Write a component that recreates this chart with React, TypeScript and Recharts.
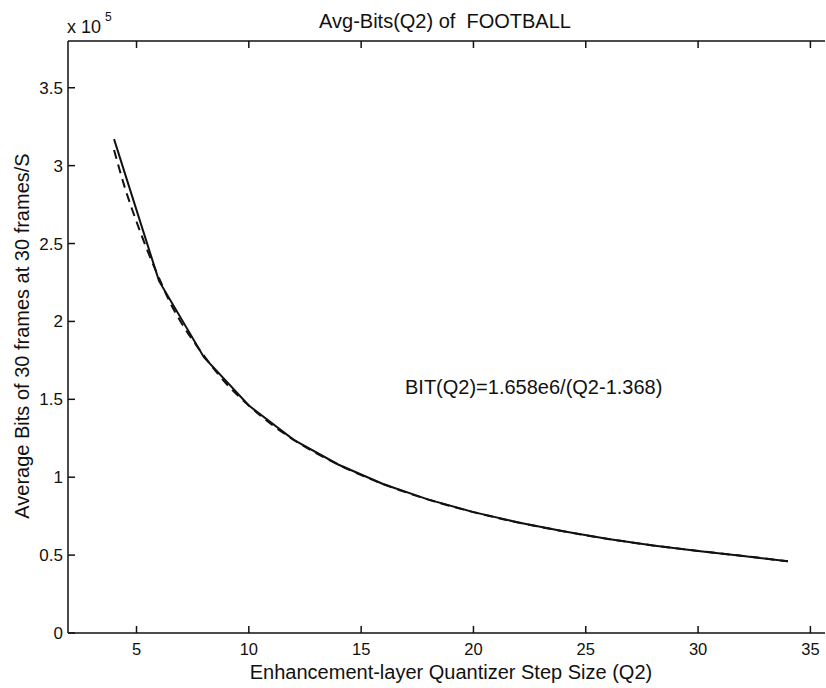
import React from 'react';
import { LineChart, Line, XAxis, YAxis, Customized } from 'recharts';

const q2Measured = [4, 6, 8, 10, 12, 14, 16, 18, 20, 22, 24, 26, 28, 30, 32, 34];
const bitsMeasured = [317000, 226000, 177000, 146000, 124000, 108000, 95500, 85600, 77600, 70900, 65300, 60400, 56200, 52700, 49500, 46000];

const q2Model = [4, 4.5, 5, 5.5, 6, 6.5, 7, 7.5, 8, 9, 10, 11, 12, 14, 16, 18, 20, 22, 24, 26, 28, 30, 32, 34];
const bitsModel = [310000, 285000, 264000, 245000, 228000, 212000, 199000, 188000, 178000, 160000, 146000, 134000, 124000, 108000, 95500, 85600, 77600, 70900, 65300, 60400, 56200, 52700, 49500, 46000];

const xTicks = [5, 10, 15, 20, 25, 30, 35];
const yTicks = [0, 50000, 100000, 150000, 200000, 250000, 300000, 350000];

const measuredData = q2Measured.map((q, i) => ({ q, bits: bitsMeasured[i] }));
const modelData = q2Model.map((q, i) => ({ q, bits: bitsModel[i] }));

const FONT = '"Liberation Sans", Arial, Helvetica, sans-serif';
const INK = '#111';

const BottomTick = (props: any) => {
    const { x, y, payload } = props;
    return (
        <g>
            <line x1={x} y1={y} x2={x} y2={y - 7} stroke={INK} strokeWidth={1.5} />
            <text x={x} y={y + 22} textAnchor="middle" fontSize={16.5} fontFamily={FONT} fill={INK}>{payload.value}</text>
        </g>
    );
};

const TopTick = (props: any) => {
    const { x, y } = props;
    return <line x1={x} y1={y} x2={x} y2={y + 7} stroke={INK} strokeWidth={1.5} />;
};

const LeftTick = (props: any) => {
    const { x, y, payload } = props;
    return (
        <g>
            <line x1={x} y1={y} x2={x + 7} y2={y} stroke={INK} strokeWidth={1.5} />
            <text x={x - 5} y={y + 6} textAnchor="end" fontSize={17} fontFamily={FONT} fill={INK}>{payload.value / 100000}</text>
        </g>
    );
};

const RightTick = (props: any) => {
    const { x, y } = props;
    return <line x1={x} y1={y} x2={x - 7} y2={y} stroke={INK} strokeWidth={1.5} />;
};

const Annotations = () => (
    <g fontFamily={FONT} fill={INK}>
        <text x={445} y={28} textAnchor="middle" fontSize={20} style={{ whiteSpace: 'pre' }}>Avg-Bits(Q2) of  FOOTBALL</text>
        <text x={67} y={33} fontSize={18}>x 10</text>
        <text x={105} y={21} fontSize={12}>5</text>
        <text x={405} y={394} fontSize={20}>BIT(Q2)=1.658e6/(Q2-1.368)</text>
        <text x={451} y={679} textAnchor="middle" fontSize={20}>Enhancement-layer Quantizer Step Size (Q2)</text>
        <text x={0} y={0} transform="translate(29,336) rotate(-90)" textAnchor="middle" fontSize={20}>
            Average Bits of 30 frames at 30 frames/S
        </text>
    </g>
);

const App: React.FC = () => {
    return (
        <div style={{ position: 'absolute', left: 0, top: 0, width: 826, height: 688, background: '#fff' }}>
            <LineChart width={826} height={688} margin={{ top: 0, right: 1, bottom: 0, left: 0 }}>
                <XAxis xAxisId={0} type="number" dataKey="q" domain={[1.95, 35.65]} ticks={xTicks} allowDataOverflow
                    height={55} tickSize={0} tickMargin={0} tickLine={false} tick={<BottomTick />}
                    axisLine={{ stroke: INK, strokeWidth: 1.5 }} />
                <XAxis xAxisId="top" orientation="top" type="number" dataKey="q" domain={[1.95, 35.65]} ticks={xTicks} allowDataOverflow
                    height={41} tickSize={0} tickMargin={0} tickLine={false} tick={<TopTick />}
                    axisLine={{ stroke: INK, strokeWidth: 1.5 }} />
                <YAxis yAxisId={0} type="number" domain={[0, 380000]} ticks={yTicks} allowDataOverflow
                    width={68} tickSize={0} tickMargin={0} tickLine={false} tick={<LeftTick />}
                    axisLine={{ stroke: INK, strokeWidth: 1.5 }} />
                <YAxis yAxisId="right" orientation="right" type="number" domain={[0, 380000]} ticks={yTicks} allowDataOverflow
                    width={0} tickSize={0} tickMargin={0} tickLine={false} tick={<RightTick />}
                    axisLine={{ stroke: INK, strokeWidth: 1.5 }} />
                <Line data={modelData} dataKey="bits" type="monotone" stroke={INK} strokeWidth={2}
                    strokeDasharray="9 6" dot={false} isAnimationActive={false} />
                <Line data={measuredData} dataKey="bits" type="linear" stroke={INK} strokeWidth={2}
                    dot={false} isAnimationActive={false} />
                <Customized component={Annotations} />
            </LineChart>
        </div>
    );
};

export default App;
